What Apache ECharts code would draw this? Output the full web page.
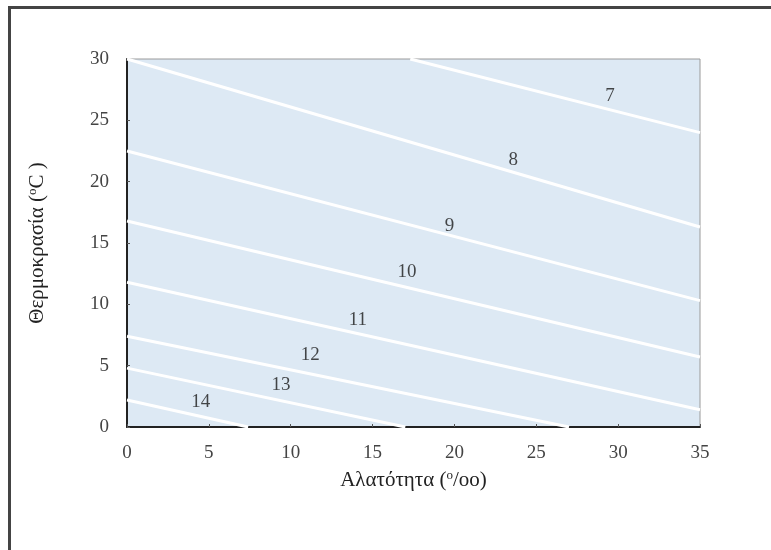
<!DOCTYPE html>
<html>
<head>
<meta charset="utf-8">
<script src="https://cdn.jsdelivr.net/npm/echarts@6/dist/echarts.min.js"></script>
<style>
    html, body { margin: 0; padding: 0; background: #fff; }
    #chart { width: 771px; height: 550px; }
</style>
</head>
<body>
<div id="chart"></div>
<script>
// isolines: start and end points [salinity, temperature]
const lineNames = ["7", "8", "9", "10", "11", "12", "13", "14"];
const lineStarts = [[17.3, 30], [0, 30], [0, 22.5], [0, 16.8], [0, 11.8], [0, 7.4], [0, 4.8], [0, 2.2]];
const lineEnds = [[35, 24], [35, 16.3], [35, 10.3], [35, 5.7], [35, 1.4], [27, 0], [17, 0], [7.4, 0]];
// label positions for each isoline
const labelPoints = [[29.5, 27.0], [23.6, 21.8], [19.7, 16.4], [17.1, 12.6], [14.1, 8.7], [11.2, 5.9], [9.4, 3.4], [4.5, 2.0]];

const serif = "Liberation Serif";

let chart = echarts.init(document.getElementById("chart"));

let series = [];
for (let i = 0; i < lineNames.length; i++) {
    series.push({
        name: lineNames[i],
        type: "line",
        data: [lineStarts[i], lineEnds[i]],
        symbol: "none",
        lineStyle: { color: "#ffffff", width: 3 },
        silent: true,
        z: 3
    });
}
series.push({
    type: "scatter",
    data: labelPoints.map((p, i) => ({ value: p, name: lineNames[i] })),
    symbolSize: 0,
    label: {
        show: true,
        position: "inside",
        formatter: "{b}",
        fontFamily: serif,
        fontSize: 19,
        color: "#1a1a1a"
    },
    z: 4
});

let option = {
    animation: false,
    graphic: [
        {
            type: "rect",
            shape: { x: 9.5, y: 7.5, width: 800, height: 600 },
            style: { fill: "none", stroke: "#444", lineWidth: 3 }
        }
    ],
    grid: {
        left: 127,
        right: 71,
        top: 59,
        bottom: 123,
        show: true,
        backgroundColor: "#dde9f4",
        borderColor: "#9a9a9a",
        borderWidth: 1
    },
    xAxis: {
        type: "value",
        min: 0,
        max: 35,
        interval: 5,
        name: "Αλατότητα ({sup|o}/oo)",
        nameLocation: "middle",
        nameGap: 42,
        nameTextStyle: {
            fontFamily: serif,
            fontSize: 21,
            color: "#222",
            rich: { sup: { fontFamily: serif, fontSize: 13, verticalAlign: "top", padding: [0, 0, 10, 0], color: "#222" } }
        },
        axisLine: { show: true, lineStyle: { color: "#222", width: 2 } },
        axisTick: { show: true, inside: true, length: 3, lineStyle: { color: "#555" } },
        axisLabel: { fontFamily: serif, fontSize: 19, color: "#444", margin: 17 },
        splitLine: { show: false }
    },
    yAxis: {
        type: "value",
        min: 0,
        max: 30,
        interval: 5,
        name: "Θερμοκρασία ({sup|o}C )",
        nameLocation: "middle",
        nameGap: 78,
        nameTextStyle: {
            fontFamily: serif,
            fontSize: 21,
            color: "#222",
            rich: { sup: { fontFamily: serif, fontSize: 13, verticalAlign: "top", padding: [0, 0, 10, 0], color: "#222" } }
        },
        axisLine: { show: true, lineStyle: { color: "#222", width: 2 } },
        axisTick: { show: true, inside: true, length: 3, lineStyle: { color: "#555" } },
        axisLabel: { fontFamily: serif, fontSize: 19, color: "#444", margin: 18 },
        splitLine: { show: false }
    },
    series: series
};

chart.setOption(option, true);
</script>
</body>
</html>
